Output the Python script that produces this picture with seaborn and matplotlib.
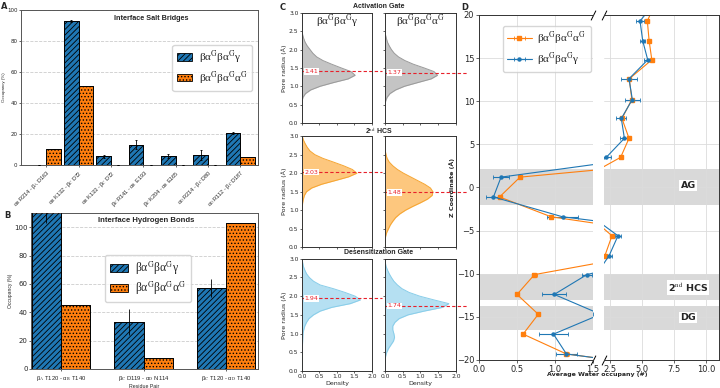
import numpy as np
import pandas as pd
import seaborn as sns
import matplotlib.pyplot as plt

sns.set_style('ticks')
plt.rcParams['font.family'] = ['DejaVu Sans']
plt.rcParams['mathtext.fontset'] = 'stix'
plt.rcParams['hatch.linewidth'] = 0.6
plt.rcParams['hatch.color'] = 'black'

blue = '#1f77b4'
orange = '#ff7f0e'
serif = ['Liberation Serif', 'DejaVu Serif']
sans = ['Liberation Sans', 'DejaVu Sans']
hatches = ['//////', '.....']

systems = ['βα$^{\\rm G}$βα$^{\\rm G}$γ', 'βα$^{\\rm G}$βα$^{\\rm G}$α$^{\\rm G}$']

# ---- panel A: salt bridges
salt_pairs = ['α$_\\mathrm{B}$ R214 - β$_\\mathrm{A}$ D163', 'α$_\\mathrm{B}$ K132 - β$_\\mathrm{C}$ D72',
              'α$_\\mathrm{B}$ K133 - β$_\\mathrm{C}$ D72', 'β$_\\mathrm{C}$ R141 - α$_\\mathrm{B}$ E193',
              'β$_\\mathrm{C}$ K204 - α$_\\mathrm{B}$ E165', 'α$_\\mathrm{D}$ R214 - β$_\\mathrm{C}$ D80',
              'α$_\\mathrm{D}$ R112 - β$_\\mathrm{C}$ D187']
salt_gamma = [0.0, 92.5, 5.5, 13.0, 6.0, 6.5, 20.5]
salt_gamma_err = [0.0, 0.5, 1.0, 3.0, 1.2, 3.0, 0.7]
salt_alpha = [10.5, 51.0, 0.0, 0.0, 0.0, 0.0, 5.0]
salt_alpha_err = [0.0, 0.0, 0.0, 0.0, 0.0, 0.0, 0.0]

# ---- panel B: hydrogen bonds
hb_pairs = ['β$_\\mathrm{A}$ T120 - α$_\\mathrm{B}$ T140', 'β$_\\mathrm{C}$ D119 - α$_\\mathrm{D}$ N114',
            'β$_\\mathrm{C}$ T120 - α$_\\mathrm{D}$ T140']
hb_gamma = [113.0, 33.0, 57.0]
hb_gamma_err = [10.0, 9.0, 6.5]
hb_alpha = [45.0, 8.0, 103.0]
hb_alpha_err = [0.0, 0.0, 0.0]

# ---- panel C: pore radius densities
radius = [0.0, 0.1, 0.2, 0.3, 0.4, 0.5, 0.6, 0.7, 0.8, 0.9, 1.0, 1.1, 1.2, 1.3, 1.4, 1.5,
          1.6, 1.7, 1.8, 1.9, 2.0, 2.1, 2.2, 2.3, 2.4, 2.5, 2.6, 2.7, 2.8, 2.9, 3.0]
gate_gamma = [0, 0, 0, 0, 0, 0, 0.005, 0.03, 0.1, 0.25, 0.52, 0.9, 1.32, 1.52, 1.4, 1.12,
              0.85, 0.6, 0.42, 0.31, 0.23, 0.15, 0.09, 0.05, 0.02, 0.005, 0, 0, 0, 0, 0]
gate_alpha = [0, 0, 0, 0, 0, 0, 0.02, 0.06, 0.14, 0.3, 0.55, 0.92, 1.3, 1.48, 1.38, 1.1,
              0.8, 0.56, 0.38, 0.26, 0.18, 0.12, 0.07, 0.04, 0.015, 0, 0, 0, 0, 0, 0]
hcs_gamma = [0, 0, 0, 0, 0, 0, 0, 0, 0, 0, 0.005, 0.01, 0.02, 0.04, 0.07, 0.13,
             0.28, 0.56, 0.95, 1.33, 1.57, 1.44, 1.19, 0.9, 0.6, 0.37, 0.23, 0.15, 0.09, 0.04, 0.01]
hcs_alpha = [0, 0, 0.005, 0.02, 0.05, 0.1, 0.15, 0.22, 0.3, 0.42, 0.58, 0.78, 1.0, 1.2, 1.33, 1.35,
             1.28, 1.12, 0.92, 0.72, 0.52, 0.35, 0.22, 0.12, 0.06, 0.03, 0.01, 0, 0, 0, 0]
desens_gamma = [0.005, 0.005, 0.006, 0.008, 0.01, 0.01, 0.012, 0.015, 0.02, 0.025, 0.03, 0.05, 0.08,
                0.13, 0.2, 0.33, 0.52, 0.85, 1.38, 1.67, 1.52, 1.23, 0.9, 0.52, 0.33, 0.21, 0.13,
                0.08, 0.04, 0.02, 0.005]
desens_alpha = [0, 0, 0.002, 0.005, 0.02, 0.05, 0.1, 0.17, 0.24, 0.27, 0.25, 0.22, 0.22, 0.28, 0.4,
                0.65, 1.1, 1.62, 1.8, 1.38, 0.98, 0.68, 0.48, 0.35, 0.25, 0.18, 0.12, 0.07, 0.03,
                0.01, 0]
gate_means = [1.41, 1.37]
hcs_means = [2.03, 1.48]
desens_means = [1.94, 1.74]

# ---- panel D: water occupancy along pore
z_coord = [21.6, 19.3, 17.0, 14.8, 12.6, 10.2, 8.0, 5.7, 3.5, 1.2, -1.1, -3.4, -5.6, -7.9,
           -10.1, -12.4, -14.7, -17.0, -19.3, -21.6]
water_gamma = [6.1, 4.84, 5.05, 5.44, 3.98, 4.24, 3.38, 3.62, 2.21, 0.29, 0.19, 1.10, 3.12, 2.43,
               1.42, 0.99, 1.60, 0.98, 1.15, 3.1]
water_gamma_err = [0.0, 0.3, 0.2, 0.3, 0.6, 0.6, 0.4, 0.35, 0.4, 0.1, 0.1, 0.2, 0.2, 0.2,
                   0.07, 0.16, 0.1, 0.19, 0.14, 0.0]
water_alpha = [6.1, 5.41, 5.55, 5.76, 4.0, 4.2, 3.43, 3.98, 3.33, 0.54, 0.27, 0.95, 2.65, 2.10,
               0.73, 0.50, 0.78, 0.58, 1.15, 3.1]
water_alpha_err = [0.0, 0.1, 0.1, 0.15, 0.1, 0.1, 0.1, 0.1, 0.1, 0.02, 0.02, 0.03, 0.05, 0.05,
                   0.03, 0.02, 0.02, 0.02, 0.03, 0.0]
regions = ['AG', '2$^{\\rm nd}$ HCS', 'DG']
region_spans = [(-2.0, 2.2), (-13.0, -10.0), (-16.5, -13.7)]
region_label_z = [0.2, -11.6, -15.1]

fig = plt.figure(figsize=(7.2, 3.88), dpi=100)


def bar_panel(ax, pairs, gamma, alpha, gamma_err, alpha_err, width, capsize):
    df = pd.DataFrame({'pair': pairs * 2, 'occ': gamma + alpha,
                       'system': [systems[0]] * len(pairs) + [systems[1]] * len(pairs)})
    sns.barplot(data=df, x='pair', y='occ', hue='system', palette=[blue, orange], saturation=1,
                width=width, errorbar=None, edgecolor='black', linewidth=0.6, ax=ax, legend=False)
    bars = list(ax.containers[:2])
    for cont, hatch, errs in zip(bars, hatches, [gamma_err, alpha_err]):
        xs = [b.get_x() + b.get_width() / 2 for b in cont]
        hs = [b.get_height() for b in cont]
        bw = cont[0].get_width()
        # hatched overlay on top of the seaborn bars
        ax.bar(xs, hs, width=bw, facecolor='none', edgecolor='black', hatch=hatch,
               linewidth=0.6, zorder=3)
        ax.errorbar(xs, hs, yerr=errs, fmt='none', ecolor='black', elinewidth=0.6, capsize=capsize,
                    capthick=0.6, zorder=4)
    ax.grid(axis='y', ls='--', color='#cccccc', lw=0.6)
    ax.set_axisbelow(True)
    for s in ax.spines.values():
        s.set_color('#555555')
        s.set_linewidth(0.7)
    return [plt.Rectangle((0, 0), 1, 1, facecolor=c, edgecolor='black', hatch=h, lw=0.6)
            for c, h in zip([blue, orange], hatches)]


# A
axA = fig.add_axes([0.0292, 0.5747, 0.3292, 0.4008])
barsA = bar_panel(axA, salt_pairs, salt_gamma, salt_alpha, salt_gamma_err, salt_alpha_err, 0.9, 1)
axA.set_xlim(-0.78, 6.55)
axA.set_ylim(0, 100)
axA.set_xlabel('')
axA.set_ylabel('Occupancy (%)', fontsize=3.2, family=sans, labelpad=1)
axA.tick_params(axis='both', labelsize=4, length=1.5, width=0.5, pad=1)
plt.setp(axA.get_xticklabels(), rotation=45, ha='right', rotation_mode='anchor', family=sans)
axA.text(0.55, 0.945, 'Interface Salt Bridges', transform=axA.transAxes, ha='center', va='center',
         fontsize=5.2, weight='bold', family=sans)
axA.legend(handles=barsA, labels=systems, loc='upper right', bbox_to_anchor=(1.0, 0.81),
           prop={'family': serif, 'size': 8}, handlelength=1.4, handleheight=0.7,
           borderpad=0.4, labelspacing=0.3, handletextpad=0.6)

# B
axB = fig.add_axes([0.0431, 0.049, 0.3153, 0.402])
barsB = bar_panel(axB, hb_pairs, hb_gamma, hb_alpha, hb_gamma_err, hb_alpha_err, 0.71, 0)
axB.set_xlim(-0.365, 2.39)
axB.set_ylim(0, 110)
axB.set_yticks([0, 20, 40, 60, 80, 100])
axB.set_xlabel('Residue Pair', fontsize=3.8, family=sans, labelpad=1)
axB.set_ylabel('Occupancy (%)', fontsize=3.6, family=sans, labelpad=1)
axB.tick_params(axis='y', labelsize=5, length=1.5, width=0.5, pad=1)
axB.tick_params(axis='x', labelsize=4.2, length=1.5, width=0.5, pad=2)
plt.setp(axB.get_xticklabels(), family=sans)
axB.text(0.506, 0.955, 'Interface Hydrogen Bonds', transform=axB.transAxes, ha='center',
         va='center', fontsize=5.6, weight='bold', family=sans)
axB.legend(handles=barsB, labels=systems, loc='upper left', bbox_to_anchor=(0.30, 0.77),
           prop={'family': serif, 'size': 8.4}, handlelength=1.6, handleheight=0.7,
           borderpad=0.4, labelspacing=0.3, handletextpad=0.6)

# C
c_rows = [('Activation Gate', gate_gamma, gate_alpha, gate_means, '#c4c4c4', '#9a9a9a'),
          ('2$^{\\rm nd}$ HCS', hcs_gamma, hcs_alpha, hcs_means, '#fdc77e', '#f6a531'),
          ('Desensitization Gate', desens_gamma, desens_alpha, desens_means, '#b5e0f2', '#88cde9')]
col_x = [0.4194, 0.5347]
col_w = [0.0972, 0.0986]
row_b = [0.683, 0.363, 0.044]
row_h = [0.284, 0.286, 0.289]
row_title_y = [0.984, 0.663, 0.348]

for i, (title, dg, da, means, fill, edge) in enumerate(c_rows):
    fig.text(0.526, row_title_y[i], title, ha='center', va='center', fontsize=5,
             weight='bold', family=sans)
    for j, dens in enumerate([dg, da]):
        ax = fig.add_axes([col_x[j], row_b[i], col_w[j], row_h[i]])
        ax.fill_betweenx(radius, 0, dens, color=fill, lw=0)
        sns.lineplot(x=dens, y=radius, orient='y', sort=False, color=edge, lw=0.7, ax=ax)
        ax.plot([0, 2.3], [means[j], means[j]], ls='--', dashes=(3, 2), color='#e8202a', lw=0.8,
                clip_on=False)
        ax.text(0.07, means[j], f'{means[j]:.2f}', color='#e8202a', fontsize=4.5, va='center',
                ha='left', bbox=dict(facecolor='white', edgecolor='none', pad=0.6))
        ax.set_xlim(0, 2)
        ax.set_ylim(0, 3)
        ax.set_xticks([0, 0.5, 1.0, 1.5, 2.0])
        ax.set_yticks([0, 0.5, 1.0, 1.5, 2.0, 2.5, 3.0])
        ax.tick_params(labelsize=4.3, length=1.5, width=0.5, pad=1)
        for s in ax.spines.values():
            s.set_linewidth(0.7)
            s.set_color('#333333')
        if j == 0:
            ax.set_ylabel('Pore radius (Å)', fontsize=4.6, labelpad=1)
        else:
            ax.tick_params(labelleft=False)
        if i < 2:
            ax.tick_params(labelbottom=False)
        else:
            ax.set_xlabel('Density', fontsize=4.5, labelpad=1)
        if i == 0:
            ax.text(0.5, 0.92, systems[j], transform=ax.transAxes, ha='center', va='center',
                    fontsize=8, family=serif)

# D
axL = fig.add_axes([0.6653, 0.0722, 0.1583, 0.8892])
axR = fig.add_axes([0.8389, 0.0722, 0.1597, 0.8892])
for ax in (axL, axR):
    for lo, hi in region_spans:
        ax.axhspan(lo, hi, color='#d9d9d9', lw=0, zorder=0)
    eo = ax.errorbar(water_alpha, z_coord, xerr=water_alpha_err, color=orange, marker='s', ms=2.2,
                     lw=0.8, elinewidth=0.8, capsize=1.5, capthick=0.6)
    eb = ax.errorbar(water_gamma, z_coord, xerr=water_gamma_err, color=blue, marker='o', ms=2.2,
                     lw=0.8, elinewidth=0.8, capsize=1.5, capthick=0.6)
    ax.set_ylim(-20, 20)
    ax.set_yticks([-20, -15, -10, -5, 0, 5, 10, 15, 20])
    ax.grid(True, color='#dcdcdc', lw=0.6)
    ax.tick_params(labelsize=6, length=2, width=0.5, pad=1.5)
    for s in ax.spines.values():
        s.set_linewidth(0.7)
        s.set_color('#333333')
axL.set_xlim(0, 1.5)
axL.set_xticks([0, 0.5, 1.0, 1.5])
axR.set_xlim(2.03, 11.0)
axR.set_xticks([2.5, 5.0, 7.5, 10.0])
axL.spines['right'].set_visible(False)
axR.spines['left'].set_visible(False)
axR.tick_params(left=False, labelleft=False)
kw = dict(marker=[(-0.5, -1), (0.5, 1)], markersize=7, linestyle='none', color='k', mec='k',
          mew=0.7, clip_on=False)
axL.plot([1, 1], [0, 1], transform=axL.transAxes, **kw)
axR.plot([0, 0], [0, 1], transform=axR.transAxes, **kw)
for name, zl in zip(regions, region_label_z):
    axR.text(8.6, zl, name, ha='center', va='center', fontsize=6.8, weight='bold',
             bbox=dict(facecolor='white', edgecolor='none', pad=0.8))
axL.set_ylabel('Z Coordinate (Å)', fontsize=4.6, weight='bold', labelpad=1)
fig.text(0.829, 0.034, 'Average Water occupany (#)', ha='center', va='center', fontsize=4.5,
         weight='bold')
axL.legend(handles=[eo, eb], labels=[systems[1], systems[0]], loc='upper left',
           bbox_to_anchor=(0.16, 0.985), prop={'family': serif, 'size': 8},
           handlelength=2.2, borderpad=0.4, labelspacing=0.3, handletextpad=0.5)

for lab, x, y in [('A', 0.002, 0.995), ('B', 0.006, 0.455), ('C', 0.389, 0.992), ('D', 0.641, 0.992)]:
    fig.text(x, y, lab, fontsize=6, weight='bold', va='top', ha='left')

fig.savefig('out.png', dpi=100)
